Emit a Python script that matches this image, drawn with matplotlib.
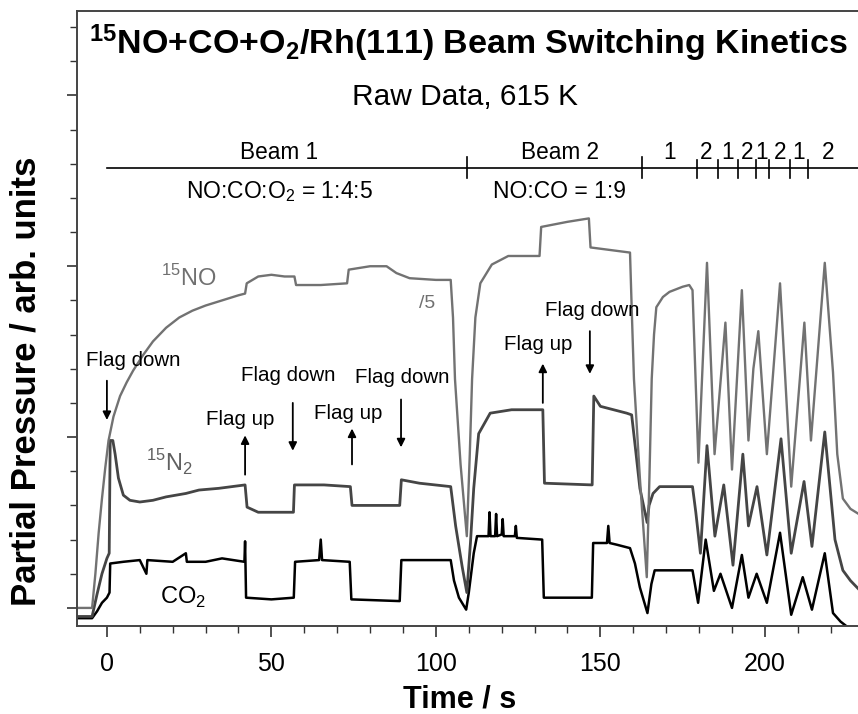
import matplotlib
matplotlib.use("Agg")
import matplotlib.pyplot as plt
from matplotlib.ticker import MultipleLocator, NullFormatter

plt.rcParams['font.family'] = ['Liberation Sans', 'DejaVu Sans']
plt.rcParams['mathtext.fontset'] = 'custom'
plt.rcParams['mathtext.rm'] = 'Liberation Sans'
plt.rcParams['mathtext.bf'] = 'Liberation Sans:bold'

# 15NO trace (divided by 5), time in s, signal in tick units
no_t = [-9, -4.5, -3.5, -2.5, -1.5, -0.5, 0.5, 2, 4, 6, 8, 11, 14, 18, 22, 26, 30, 35, 40, 42,
        42.5, 46, 50, 54, 57, 57.5, 65, 73, 73.5, 80, 85, 88, 92, 100, 104.5, 105.2, 105.8, 107.5,
        109.4, 110.3, 111, 112, 113.5, 117, 122, 131.5, 132, 140, 146.5, 147, 159, 159.6, 160.2,
        162, 164.1, 164.9, 165.6, 166.3, 167, 169, 171, 175, 177, 178, 179.8, 182.4, 184.7, 188,
        190, 193, 195, 196.5, 198, 200.6, 204.6, 208, 212, 214, 218.2, 220.7, 222, 223.7, 226, 228.5]
no_v = [0.0, 0.0, 1.0, 2.2, 3.2, 4.1, 4.9, 5.6, 6.2, 6.6, 6.95, 7.4, 7.8, 8.2, 8.5, 8.7, 8.85, 9.0, 9.15, 9.2,
        9.5, 9.7, 9.75, 9.7, 9.7, 9.45, 9.45, 9.5, 9.9, 10.0, 10.0, 9.8, 9.65, 9.6, 9.6, 8.5, 6.7, 4.2,
        2.1, 4.5, 6.7, 8.5, 9.5, 10.05, 10.3, 10.3, 11.15, 11.3, 11.4, 10.55, 10.4, 8.5, 6.7,
        3.8, 0.9, 3.8, 6.7, 8.0, 8.8, 9.1, 9.25, 9.4, 9.45, 9.3, 4.25, 10.1, 4.5, 8.35,
        4.05, 9.3, 4.9, 7.0, 8.1, 4.5, 9.5, 3.55, 8.35, 4.9, 10.1, 6.9, 4.5, 3.2, 2.9, 2.75]

# 15N2 trace
n2_t = [-9, -4.5, -3, -1.5, 0, 0.7, 1.0, 1.8, 2.5, 3.5, 5, 7, 10, 14, 18, 24, 28, 34, 42,
        42.6, 46, 56.7, 57, 66, 74, 74.5, 89, 89.5, 95, 104.5, 106, 108, 109.4, 110.5, 111.5,
        113, 116.5, 123, 132.5, 133, 147.5, 148, 150, 158, 159.5, 160.5, 162, 164.2, 164.8,
        166, 168, 178, 179, 180.4, 182.4, 184.8, 187.5, 190.3, 193.3, 195, 197.6, 200.6, 204.9,
        208, 211.9, 214.3, 218.2, 221.3, 223.7, 226, 228.5]
n2_v = [-0.25, -0.25, 0.4, 1.0, 1.45, 1.6, 4.9, 4.9, 4.5, 3.8, 3.3, 3.15, 3.1, 3.15, 3.25, 3.35, 3.45, 3.5, 3.6,
        2.95, 2.8, 2.8, 3.6, 3.6, 3.55, 3.0, 3.0, 3.75, 3.65, 3.55, 2.4, 1.2, 0.45, 1.9, 3.5,
        5.1, 5.7, 5.8, 5.8, 3.65, 3.6, 6.2, 5.9, 5.7, 5.65, 4.8, 3.5, 2.5, 3.0,
        3.35, 3.55, 3.55, 2.8, 1.6, 4.75, 2.1, 3.6, 1.25, 4.5, 2.4, 3.55, 1.55, 4.95,
        1.6, 3.7, 1.8, 5.15, 2.0, 1.1, 0.8, 0.55]

# CO2 trace
co2_t = [-9, -4.5, -3, -1.5, 0, 0.8, 1.0, 5, 10, 12, 12.3, 20, 24, 24.3, 30, 35, 41.8, 42, 42.3,
         50, 56.8, 57.2, 64.5, 65, 65.4, 73.8, 74.3, 89, 89.5, 97, 104.5, 105.5, 107, 109.2, 110,
         111.5, 112.5, 116, 116.3, 116.6, 118, 118.3, 118.6, 120, 120.3, 120.6, 124, 124.3, 124.6,
         132.3, 132.8, 147.4, 147.8, 152, 152.4, 152.8, 155, 159, 160.5, 162, 164.3, 165.5, 166.5,
         178, 179.7, 182, 184.5, 186.5, 190, 193, 195, 197.5, 200.6, 204.6, 208, 211.5, 214.3,
         218.2, 220.7, 223, 225, 226]
co2_v = [-0.3, -0.3, -0.1, 0.15, 0.3, 0.45, 1.3, 1.35, 1.4, 1.0, 1.4, 1.35, 1.6, 1.35, 1.35, 1.45, 1.35, 1.95, 0.3,
         0.25, 0.3, 1.35, 1.4, 2.0, 1.4, 1.35, 0.25, 0.2, 1.4, 1.4, 1.4, 0.8, 0.3, -0.05, 0.45,
         1.6, 2.1, 2.1, 2.8, 2.1, 2.1, 2.75, 2.1, 2.15, 2.6, 2.1, 2.1, 2.4, 2.05,
         2.0, 0.3, 0.3, 1.9, 1.9, 2.4, 1.9, 1.85, 1.75, 1.3, 0.6, -0.15, 0.7, 1.1,
         1.1, 0.15, 2.0, 0.5, 1.0, 0.0, 1.55, 0.3, 1.0, 0.15, 2.2, -0.2, 0.9, -0.05,
         1.6, -0.15, -0.4, -0.55, -0.7]

beam_edges = [109.4, 162.6]
switch_edges = [179.3, 185.7, 191.8, 197.3, 201.2, 207.6, 213.1]
switch_labels = ['1', '2', '1', '2', '1', '2', '1', '2']
switch_label_x = [171.1, 182.1, 188.8, 194.5, 199.1, 204.6, 210.3, 219.1]

# flag annotations: text, text position, arrow tail, arrow head
flags = [
    ("Flag down", (8, 7.25), (0, 6.65), (0, 5.5)),
    ("Flag up", (40.4, 5.5), (42, 3.9), (42, 5.05)),
    ("Flag down", (55, 6.8), (56.5, 6.0), (56.5, 4.6)),
    ("Flag up", (73.3, 5.7), (74.5, 4.2), (74.5, 5.25)),
    ("Flag down", (89.7, 6.75), (89.4, 6.1), (89.4, 4.7)),
    ("Flag up", (131, 7.7), (132.5, 6.0), (132.5, 7.15)),
    ("Flag down", (147.4, 8.7), (146.8, 8.1), (146.8, 6.85)),
]

fig = plt.figure(figsize=(8.58, 7.14), dpi=100)
ax = fig.add_axes([0.0897, 0.1232, 0.9103, 0.8614])

ax.plot(co2_t, co2_v, color='black', lw=1.8)
ax.plot(n2_t, n2_v, color='#454545', lw=2.0)
ax.plot(no_t, no_v, color='#727272', lw=1.7)

ax.set_xlim(-9.1, 228.3)
ax.set_ylim(-0.53, 17.47)
ax.xaxis.set_major_locator(MultipleLocator(50))
ax.xaxis.set_minor_locator(MultipleLocator(10))
ax.yaxis.set_major_locator(MultipleLocator(5))
ax.yaxis.set_minor_locator(MultipleLocator(1))
ax.yaxis.set_major_formatter(NullFormatter())
ax.tick_params(axis='both', which='major', direction='out', length=8, width=1.2, labelsize=18,
               color='#333333', pad=11)
ax.tick_params(axis='both', which='minor', direction='out', length=5, width=1.0, color='#333333')
ax.tick_params(axis='y', which='major', length=7)
ax.spines['right'].set_visible(False)
for s in ['left', 'top', 'bottom']:
    ax.spines[s].set_linewidth(1.4)
    ax.spines[s].set_color('#444444')

fig.text(460 / 858, 1 - 700 / 714, "Time / s", ha='center', va='center', fontsize=22, fontweight='bold')
fig.text(26 / 858, 1 - 381 / 714, "Partial Pressure / arb. units", ha='center', va='center',
         rotation=90, fontsize=25, fontweight='bold')

ax.text(110, 16.53, r"$\mathbf{^{15}}$NO+CO+O$\mathbf{_2}$/Rh(111) Beam Switching Kinetics",
        ha='center', va='center', fontsize=24.5, fontweight='bold')
ax.text(108.8, 14.95, "Raw Data, 615 K", ha='center', va='center', fontsize=21.5)

# beam timeline
ax.plot([0, 228.3], [12.87, 12.87], color='black', lw=1.2, clip_on=False)
for xe in beam_edges:
    ax.plot([xe, xe], [12.58, 13.2], color='black', lw=1.2)
for xe in switch_edges:
    ax.plot([xe, xe], [12.58, 13.1], color='black', lw=1.2)
ax.text(52.3, 13.32, "Beam 1", ha='center', va='center', fontsize=16.3)
ax.text(137.7, 13.32, "Beam 2", ha='center', va='center', fontsize=16.3)
for lab, xl in zip(switch_labels, switch_label_x):
    ax.text(xl, 13.32, lab, ha='center', va='center', fontsize=16.3)
ax.text(52.3, 12.2, r"NO:CO:O$_2$ = 1:4:5", ha='center', va='center', fontsize=16.5)
ax.text(137.7, 12.2, "NO:CO = 1:9", ha='center', va='center', fontsize=16.5)

# trace labels
ax.text(25, 9.65, r"$^{15}$NO", ha='center', va='center', fontsize=17, color='#707070')
ax.text(97.3, 8.9, "/5", ha='center', va='center', fontsize=14, color='#707070')
ax.text(19, 4.25, r"$^{15}$N$_2$", ha='center', va='center', fontsize=17, color='#606060')
ax.text(23, 0.3, r"CO$_2$", ha='center', va='center', fontsize=17, color='black')

for txt, pos, tail, head in flags:
    ax.text(pos[0], pos[1], txt, ha='center', va='center', fontsize=14.8)
    ax.annotate('', xy=head, xytext=tail,
                arrowprops=dict(arrowstyle='-|>', color='black', lw=1.3, mutation_scale=12,
                                shrinkA=0, shrinkB=0))

fig.savefig("out.png", dpi=100)
